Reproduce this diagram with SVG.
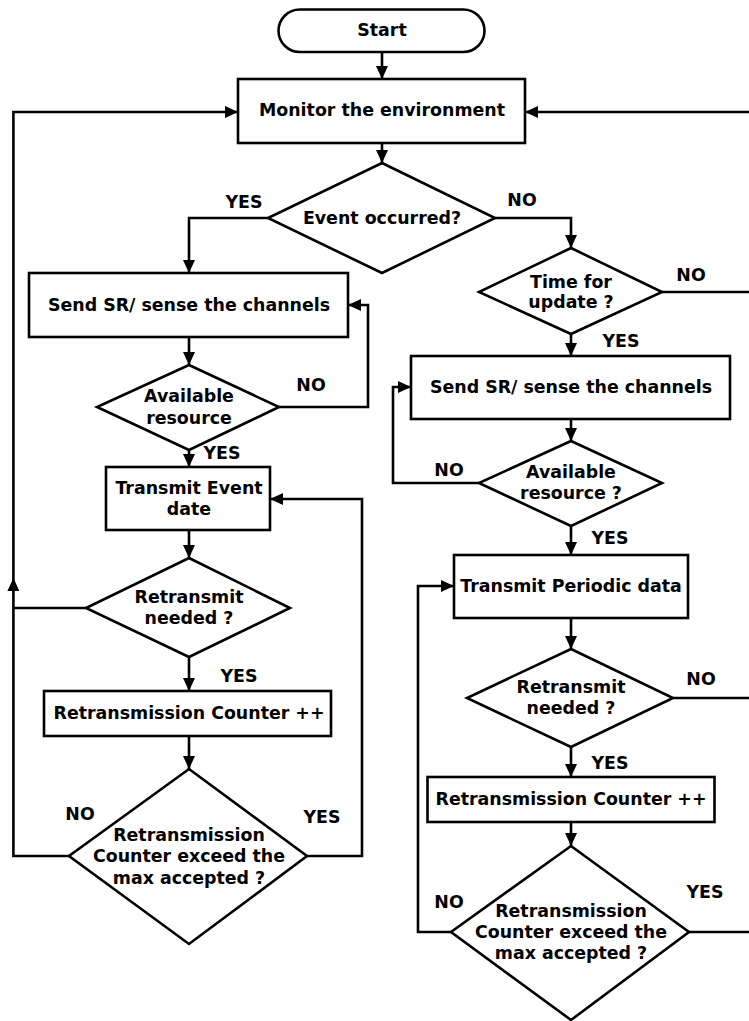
<svg xmlns="http://www.w3.org/2000/svg" width="749" height="1021" viewBox="0 0 749 1021">
<style>
.s{fill:#fff;stroke:#000;stroke-width:2.6}
.c{fill:none;stroke:#000;stroke-width:2.6}
text{font-family:"DejaVu Sans","Verdana",sans-serif;font-weight:bold;font-size:17.4px;fill:#000;text-anchor:middle;dominant-baseline:central}
</style>
<defs>
<marker id="a" viewBox="0 0 13 12" refX="13" refY="6" markerWidth="13" markerHeight="12" markerUnits="userSpaceOnUse" orient="auto">
<path d="M0,0 L13,6 L0,12 Z" fill="#000"/>
</marker>
</defs>
<rect width="749" height="1021" fill="#fff"/>
<g id="connectors">
<path class="c" d="M382,52 V79" marker-end="url(#a)"/>
<path class="c" d="M382,143 V163" marker-end="url(#a)"/>
<path class="c" d="M268,218 H189 V273" marker-end="url(#a)"/>
<path class="c" d="M495,218 H571 V248" marker-end="url(#a)"/>
<path class="c" d="M189,337 V365" marker-end="url(#a)"/>
<path class="c" d="M279,407 H368 V305 H348" marker-end="url(#a)"/>
<path class="c" d="M189,450 V467" marker-end="url(#a)"/>
<path class="c" d="M189,530 V558" marker-end="url(#a)"/>
<path class="c" d="M86,608 H13.4"/>
<path class="c" d="M189,657 V691" marker-end="url(#a)"/>
<path class="c" d="M189,736 V769" marker-end="url(#a)"/>
<path class="c" d="M307,856 H362 V499 H270" marker-end="url(#a)"/>
<path class="c" d="M69,856 H13.4 V578" marker-end="url(#a)"/>
<path class="c" d="M13.4,578 V112 H238" marker-end="url(#a)"/>
<path class="c" d="M749,112 H525" marker-end="url(#a)"/>
<path class="c" d="M662,292 H749"/>
<path class="c" d="M571,334 V356" marker-end="url(#a)"/>
<path class="c" d="M571,419 V441" marker-end="url(#a)"/>
<path class="c" d="M479,483 H393 V387 H411" marker-end="url(#a)"/>
<path class="c" d="M571,526 V555" marker-end="url(#a)"/>
<path class="c" d="M571,618 V649" marker-end="url(#a)"/>
<path class="c" d="M673,698 H749"/>
<path class="c" d="M571,747 V777" marker-end="url(#a)"/>
<path class="c" d="M571,822 V846" marker-end="url(#a)"/>
<path class="c" d="M689,932 H749"/>
<path class="c" d="M451,932 H418 V586 H454" marker-end="url(#a)"/>
</g>
<g id="start"><rect class="s" x="278.5" y="9.5" width="206" height="42.5" rx="21.25"/><text x="382" y="30">Start</text></g>
<g id="monitor"><rect class="s" x="238" y="79" width="287" height="64"/><text x="382" y="110">Monitor the environment</text></g>
<g id="event"><polygon class="s" points="382,163 495,218 382,273 268,218"/><text x="382" y="218">Event occurred?</text></g>
<g id="sendL"><rect class="s" x="29" y="273" width="319" height="64"/><text x="189" y="305">Send SR/ sense the channels</text></g>
<g id="availL"><polygon class="s" points="189,365 279,407 189,450 97,407"/><text x="189" y="396">Available</text><text x="189" y="418">resource</text></g>
<g id="transEvent"><rect class="s" x="106" y="467" width="164" height="63"/><text x="189" y="488">Transmit Event</text><text x="189" y="509">date</text></g>
<g id="retransL"><polygon class="s" points="189,558 290,608 189,657 86,608"/><text x="189" y="597">Retransmit</text><text x="189" y="618">needed ?</text></g>
<g id="counterL"><rect class="s" x="44" y="691" width="287" height="45"/><text x="189" y="713">Retransmission Counter ++</text></g>
<g id="exceedL"><polygon class="s" points="189,769 307,856 189,944 69,856"/><text x="189" y="835">Retransmission</text><text x="189" y="856">Counter exceed the</text><text x="189" y="878">max accepted ?</text></g>
<g id="timeUpd"><polygon class="s" points="571,248 662,292 571,334 479,292"/><text x="571" y="282">Time for</text><text x="571" y="302">update ?</text></g>
<g id="sendR"><rect class="s" x="411" y="356" width="319" height="63"/><text x="571" y="387">Send SR/ sense the channels</text></g>
<g id="availR"><polygon class="s" points="571,441 662,483 571,526 479,483"/><text x="571" y="472">Available</text><text x="571" y="493">resource ?</text></g>
<g id="transPeriodic"><rect class="s" x="454" y="555" width="234" height="63"/><text x="571" y="586">Transmit Periodic data</text></g>
<g id="retransR"><polygon class="s" points="571,649 673,698 571,747 467,698"/><text x="571" y="687">Retransmit</text><text x="571" y="708">needed ?</text></g>
<g id="counterR"><rect class="s" x="427.5" y="777" width="287" height="45"/><text x="571" y="799">Retransmission Counter ++</text></g>
<g id="exceedR"><polygon class="s" points="571,846 689,932 571,1020 451,932"/><text x="571" y="911">Retransmission</text><text x="571" y="932">Counter exceed the</text><text x="571" y="953">max accepted ?</text></g>
<g id="labels">
<text x="244" y="202">YES</text>
<text x="522" y="200">NO</text>
<text x="311" y="385">NO</text>
<text x="222" y="453">YES</text>
<text x="691" y="275">NO</text>
<text x="621" y="341">YES</text>
<text x="449" y="470">NO</text>
<text x="610" y="538">YES</text>
<text x="239" y="676">YES</text>
<text x="80" y="814">NO</text>
<text x="322" y="817">YES</text>
<text x="701" y="679">NO</text>
<text x="610" y="763">YES</text>
<text x="449" y="902">NO</text>
<text x="705" y="892">YES</text>
</g>
</svg>
